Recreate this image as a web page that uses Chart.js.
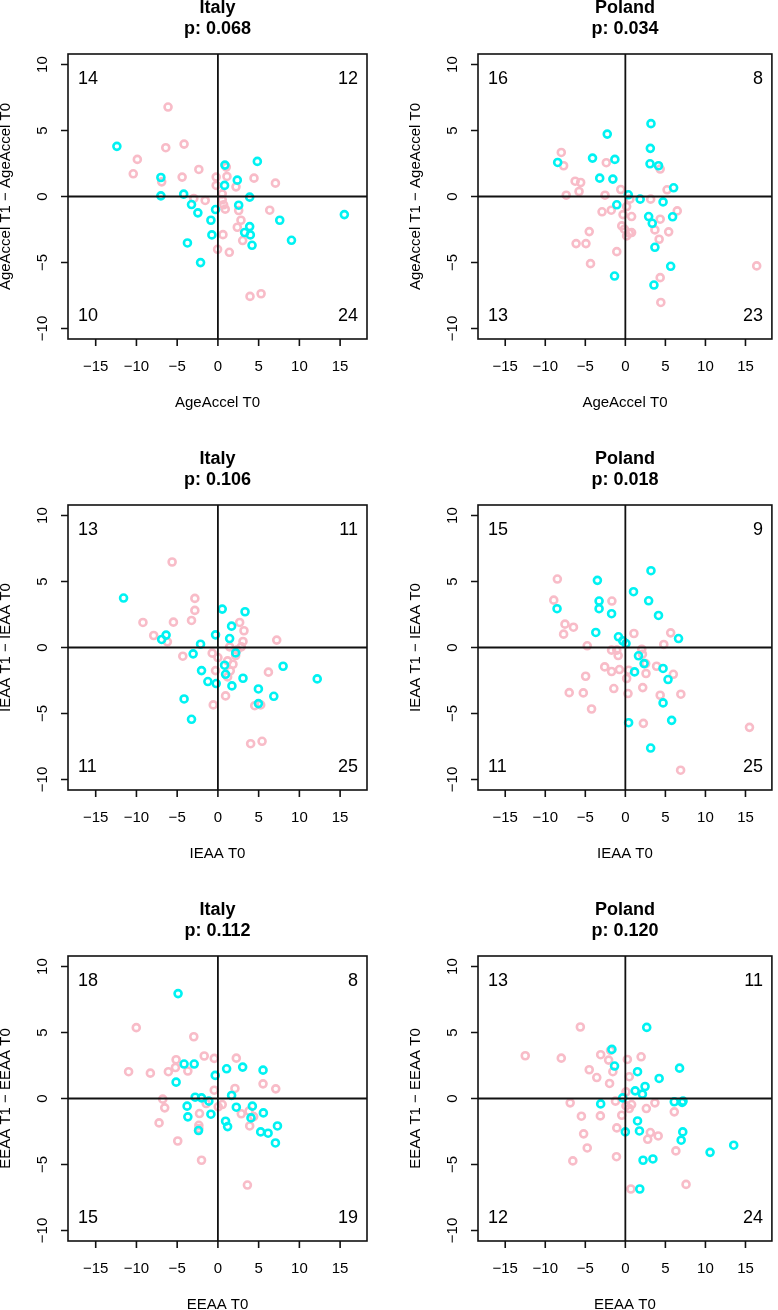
<!DOCTYPE html>
<html>
<head>
<meta charset="utf-8">
<script src="https://cdn.jsdelivr.net/npm/chart.js@4.4.1/dist/chart.umd.min.js"></script>
<style>
  html, body { margin: 0; padding: 0; background: #fff; }
  body { width: 778px; height: 1310px; overflow: hidden; position: relative; }
  canvas { position: absolute; }
</style>
</head>
<body>
<canvas id="p1" width="389" height="451" style="left:0;top:0"></canvas>
<canvas id="p2" width="389" height="451" style="left:389px;top:0"></canvas>
<canvas id="p3" width="389" height="451" style="left:0;top:451px"></canvas>
<canvas id="p4" width="389" height="451" style="left:389px;top:451px"></canvas>
<canvas id="p5" width="389" height="451" style="left:0;top:902px"></canvas>
<canvas id="p6" width="389" height="451" style="left:389px;top:902px"></canvas>
<script>
// six T0 vs (T1 - T0) scatters, cyan / pink groups, quadrant counts in the corners
const xTicks = [-15, -10, -5, 0, 5, 10, 15];
const yTicks = [-10, -5, 0, 5, 10];

const titles = ["Italy", "Poland", "Italy", "Poland", "Italy", "Poland"];
const pValues = ["0.068", "0.034", "0.106", "0.018", "0.112", "0.120"];
const xLabels = ["AgeAccel T0", "IEAA T0", "EEAA T0"];
const yLabels = ["AgeAccel T1 \u2212 AgeAccel T0", "IEAA T1 \u2212 IEAA T0", "EEAA T1 \u2212 EEAA T0"];

// quadrant counts: top-left, top-right, bottom-left, bottom-right
const itAgeCounts = [14, 12, 10, 24];
const plAgeCounts = [16, 8, 13, 23];
const itIeaaCounts = [13, 11, 11, 25];
const plIeaaCounts = [15, 9, 11, 25];
const itEeaaCounts = [18, 8, 15, 19];
const plEeaaCounts = [13, 11, 12, 24];

const itAgeCyan = [[-12.4,3.8],[-7.0,1.44],[-7.0,0.05],[-4.2,0.18],[-3.24,-0.61],[-2.46,-1.24],[-3.74,-3.52],[-2.13,-5.01],[-0.86,-1.8],[-0.74,-2.91],[-0.29,-0.99],[0.86,2.38],[2.38,1.24],[0.82,0.84],[4.84,2.66],[3.9,-0.05],[2.55,-0.66],[7.59,-1.8],[9.03,-3.32],[15.52,-1.37],[3.9,-2.28],[3.28,-2.73],[3.98,-2.91],[4.19,-3.7]];
const itAgePink = [[-6.12,6.78],[-6.4,3.7],[-4.15,3.97],[-9.89,2.81],[-10.39,1.72],[-6.9,1.11],[-4.39,1.47],[-2.34,2.05],[-2.96,-0.15],[-1.56,-0.3],[-0.21,1.47],[-0.21,0.84],[1.03,2.23],[1.11,1.52],[2.22,0.73],[4.43,1.39],[7.06,1.01],[0.53,0.2],[0.53,-0.25],[0.7,-0.63],[0.9,-0.96],[2.55,-1.06],[2.83,-1.8],[2.38,-2.33],[3.04,-3.34],[6.36,-1.04],[0.62,-2.89],[-0.04,-4.0],[1.4,-4.23],[3.94,-7.57],[5.3,-7.37]];

const plAgeCyan = [[-8.45,2.58],[-2.26,4.73],[-4.1,2.91],[-1.31,2.81],[-3.2,1.39],[-1.56,1.32],[3.2,5.52],[3.12,3.65],[3.08,2.48],[4.14,2.33],[6.03,0.66],[0.37,0.13],[1.85,-0.2],[4.71,-0.41],[-1.07,-0.63],[2.91,-1.52],[3.36,-2.03],[5.9,-1.54],[3.69,-3.85],[5.66,-5.29],[3.57,-6.71],[-1.35,-6.03]];
const plAgePink = [[-8.0,3.34],[-7.71,2.33],[-6.27,1.16],[-5.58,1.06],[-5.78,0.38],[-7.38,0.1],[-2.38,2.56],[-2.54,0.1],[-0.57,0.53],[-2.91,-1.16],[-1.76,-1.04],[-0.29,-1.37],[0.16,-0.76],[0.78,-1.52],[0.57,-0.2],[-0.45,-2.23],[-0.12,-2.48],[0.49,-2.78],[0.78,-2.73],[0.16,-2.99],[-4.51,-2.66],[-6.15,-3.57],[-4.92,-3.57],[-4.35,-5.09],[-1.07,-4.18],[3.16,-0.2],[4.35,2.08],[5.21,0.51],[6.48,-1.09],[4.35,-1.72],[3.69,-2.53],[5.41,-2.68],[4.22,-3.24],[4.35,-6.15],[4.43,-8.03],[16.4,-5.26]];

const itIeaaCyan = [[-11.58,3.75],[-6.36,0.94],[-6.9,0.61],[-2.13,0.25],[-3.04,-0.48],[-2.01,-1.75],[-1.23,-2.58],[-0.21,-2.73],[-4.15,-3.9],[-3.24,-5.44],[-0.29,0.96],[0.53,2.91],[3.33,2.71],[1.68,1.62],[1.44,0.68],[2.18,-0.41],[0.82,-1.34],[0.94,-2.03],[1.72,-2.91],[3.08,-2.33],[4.97,-3.14],[6.86,-3.7],[8.0,-1.42],[12.19,-2.38],[4.97,-4.25]];
const itIeaaPink = [[-5.62,6.48],[-2.83,3.72],[-2.83,2.81],[-3.24,2.05],[-5.46,1.92],[-9.2,1.9],[-7.88,0.91],[-6.2,0.43],[-4.31,-0.66],[-0.7,-0.43],[0,-0.76],[-0.29,-1.75],[-0.57,-4.35],[0.94,-3.67],[2.67,1.9],[3.2,1.27],[3.08,0.46],[2.87,0.05],[1.44,0.05],[2.34,-0.2],[2.18,-0.61],[1.19,-1.01],[1.85,-1.27],[1.52,-1.77],[1.19,-2.23],[7.22,0.56],[6.2,-1.87],[4.52,-4.41],[5.25,-4.35],[4.02,-7.29],[5.42,-7.11]];

const plIeaaCyan = [[-8.53,2.94],[-3.49,5.09],[-3.28,3.52],[-3.28,2.94],[-1.72,2.56],[-3.69,1.14],[-0.86,0.81],[-0.33,0.51],[0.08,0.3],[1.02,4.23],[3.2,5.82],[2.91,3.54],[4.14,2.43],[6.64,0.68],[1.64,-0.63],[2.34,-1.22],[1.15,-1.85],[4.71,-1.59],[5.33,-2.43],[4.71,-4.2],[5.78,-5.52],[0.41,-5.7],[3.16,-7.62]];
const plIeaaPink = [[-8.49,5.19],[-8.94,3.59],[-7.54,1.77],[-6.48,1.54],[-7.71,1.01],[-4.76,0.13],[-1.68,3.52],[-1.72,-0.2],[-1.07,-0.2],[-0.9,-0.61],[-2.58,-1.47],[-1.72,-1.82],[-0.74,-1.67],[0.41,-1.72],[0.16,-2.35],[1.07,1.06],[2.05,-0.13],[2.13,-0.51],[2.54,-1.22],[2.58,-1.97],[3.9,-1.42],[4.8,0.23],[5.66,1.11],[5.99,-2.03],[-4.96,-2.18],[-7.01,-3.42],[-5.25,-3.44],[-4.22,-4.66],[-1.44,-3.11],[0.33,-3.49],[2.17,-3.04],[4.35,-3.62],[6.93,-3.54],[2.25,-5.75],[15.5,-6.05],[6.9,-9.3]];

const itEeaaCyan = [[-4.89,7.95],[-4.15,2.61],[-2.91,2.61],[-5.13,1.24],[-0.33,1.75],[1.07,2.25],[3.04,2.38],[5.54,2.15],[-2.79,0.1],[-2.01,0.05],[-3.78,-0.58],[-3.69,-1.39],[-2.38,-2.43],[-0.86,-1.19],[-1.11,-0.2],[1.68,0.23],[2.26,-0.66],[0.94,-1.72],[1.19,-2.13],[4.23,-0.58],[4.06,-1.47],[5.58,-1.09],[5.25,-2.53],[6.16,-2.63],[7.31,-2.08],[7.06,-3.37]];
const itEeaaPink = [[-10.02,5.37],[-2.96,4.68],[-10.96,2.03],[-8.29,1.92],[-6.08,2.03],[-5.13,2.94],[-5.21,2.35],[-3.69,2.08],[-1.68,3.22],[-0.45,3.04],[2.26,3.06],[5.54,1.11],[7.1,0.73],[2.09,0.76],[-0.45,0.63],[-6.77,-0.05],[-6.53,-0.71],[-7.22,-1.85],[-4.93,-3.22],[-2.26,-1.14],[-1.44,-0.38],[0.04,-0.63],[0.53,-0.46],[-2.34,-2.03],[-2.34,-2.28],[-2.01,-4.68],[2.87,-1.16],[3.82,-0.96],[4.39,-1.37],[3.9,-2.08],[3.62,-6.56]];

const plEeaaCyan = [[2.67,5.39],[-1.68,3.72],[-1.35,2.46],[1.52,2.03],[6.77,2.3],[4.22,1.52],[1.23,0.58],[2.46,0.91],[2.13,0.33],[-3.08,-0.41],[-0.33,0.05],[6.11,-0.25],[7.09,-0.3],[7.2,-0.2],[1.52,-1.7],[1.76,-2.46],[0,-2.53],[7.17,-2.53],[6.97,-3.16],[10.58,-4.08],[13.53,-3.54],[2.21,-4.68],[3.44,-4.58],[1.8,-6.86]];
const plEeaaPink = [[-5.62,5.42],[-12.5,3.24],[-8.0,3.06],[-3.08,3.32],[-2.09,2.91],[-1.56,2.03],[-1.85,3.65],[-4.51,2.18],[-3.57,1.59],[-1.97,1.14],[0.25,2.96],[1.97,3.16],[0.49,1.65],[0.08,0.51],[-6.89,-0.33],[-1.23,-0.2],[0.08,-0.56],[0.78,-0.46],[0.49,-0.76],[2.62,-0.76],[3.69,-0.33],[6.11,-1.01],[-5.49,-1.34],[-3.12,-1.32],[-0.45,-1.27],[-1.07,-2.23],[-5.21,-2.68],[-4.76,-3.75],[-6.56,-4.73],[-1.11,-4.41],[3.12,-2.58],[2.79,-3.09],[4.1,-2.84],[6.31,-3.97],[0.69,-6.86],[7.58,-6.51]];

(function () {
  const FONT = "'Liberation Sans', Arial, Helvetica, sans-serif";
  const CYAN = "#00f2f2";
  const PINK = "#f8bcc8";

  // R-style base graphics frame: box, outward ticks, rotated y labels, 0-cross, corner counts
  const rFrame = {
    id: "rFrame",
    afterDatasetsDraw(chart, args, o) {
      const { ctx, chartArea: a, scales: { x, y } } = chart;
      const cx = (a.left + a.right) / 2, cy = (a.top + a.bottom) / 2;
      ctx.save();
      ctx.strokeStyle = "#111";
      ctx.fillStyle = "#000";

      ctx.lineWidth = 1.8;
      const x0 = x.getPixelForValue(0), y0 = y.getPixelForValue(0);
      ctx.beginPath();
      ctx.moveTo(a.left, y0); ctx.lineTo(a.right, y0);
      ctx.moveTo(x0, a.top); ctx.lineTo(x0, a.bottom);
      ctx.stroke();

      ctx.lineWidth = 1.6;
      ctx.strokeRect(a.left, a.top, a.right - a.left, a.bottom - a.top);

      ctx.beginPath();
      xTicks.forEach((v) => {
        const px = x.getPixelForValue(v);
        ctx.moveTo(px, a.bottom); ctx.lineTo(px, a.bottom + 7);
      });
      yTicks.forEach((v) => {
        const py = y.getPixelForValue(v);
        ctx.moveTo(a.left - 7, py); ctx.lineTo(a.left, py);
      });
      ctx.stroke();

      const fmt = (v) => (v < 0 ? "\u2212" + -v : "" + v);
      ctx.font = `15px ${FONT}`;
      ctx.textAlign = "center";
      ctx.textBaseline = "middle";
      xTicks.forEach((v) => ctx.fillText(fmt(v), x.getPixelForValue(v), a.bottom + 28));
      yTicks.forEach((v) => {
        ctx.save();
        ctx.translate(a.left - 25, y.getPixelForValue(v));
        ctx.rotate(-Math.PI / 2);
        ctx.fillText(fmt(v), 0, 0);
        ctx.restore();
      });

      ctx.fillText(o.xLabel, cx, a.bottom + 64);
      ctx.save();
      ctx.translate(a.left - 62, cy);
      ctx.rotate(-Math.PI / 2);
      ctx.fillText(o.yLabel, 0, 0);
      ctx.restore();

      ctx.font = `bold 18px ${FONT}`;
      ctx.fillText(o.title, cx, a.top - 46);
      ctx.fillText("p: " + o.p, cx, a.top - 25);

      const [tl, tr, bl, br] = o.counts;
      ctx.font = `18px ${FONT}`;
      ctx.textAlign = "left";
      ctx.fillText(tl, a.left + 10, a.top + 25);
      ctx.fillText(bl, a.left + 10, a.bottom - 23);
      ctx.textAlign = "right";
      ctx.fillText(tr, a.right - 9, a.top + 25);
      ctx.fillText(br, a.right - 9, a.bottom - 23);
      ctx.restore();
    },
  };

  const ring = (data, color) => ({
    data, borderColor: color, backgroundColor: "transparent",
    pointRadius: 3.5, pointHoverRadius: 3.5, borderWidth: 2.6, pointBorderWidth: 2.6,
  });

  function panel(id, i, cyan, pink, counts, rightCol) {
    const row = Math.floor(i / 2);
    new Chart(document.getElementById(id), {
      type: "scatter",
      data: { datasets: [ring(cyan, CYAN), ring(pink, PINK)] },
      options: {
        responsive: false,
        animation: false,
        events: [],
        layout: { padding: rightCol
          ? { left: 89, right: 1, top: 54, bottom: 112 }
          : { left: 68, right: 22, top: 54, bottom: 112 } },
        scales: {
          x: { type: "linear", display: false, min: -18.4, max: 18.3 },
          y: { type: "linear", display: false, min: -10.8, max: 10.8 },
        },
        plugins: {
          legend: { display: false },
          tooltip: { enabled: false },
          rFrame: {
            title: titles[i], p: pValues[i], counts,
            xLabel: xLabels[row], yLabel: yLabels[row],
          },
        },
      },
      plugins: [rFrame],
    });
  }

  panel("p1", 0, itAgeCyan, itAgePink, itAgeCounts, false);
  panel("p2", 1, plAgeCyan, plAgePink, plAgeCounts, true);
  panel("p3", 2, itIeaaCyan, itIeaaPink, itIeaaCounts, false);
  panel("p4", 3, plIeaaCyan, plIeaaPink, plIeaaCounts, true);
  panel("p5", 4, itEeaaCyan, itEeaaPink, itEeaaCounts, false);
  panel("p6", 5, plEeaaCyan, plEeaaPink, plEeaaCounts, true);
})();
</script>
</body>
</html>
